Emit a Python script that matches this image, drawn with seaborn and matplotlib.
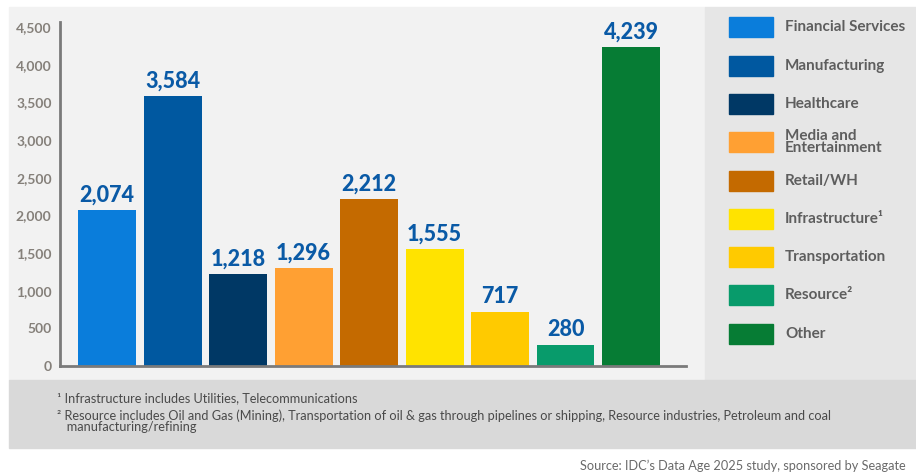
import matplotlib
matplotlib.use("Agg")
import matplotlib.pyplot as plt
import matplotlib.patches as mpatches
import seaborn as sns
import pandas as pd

categories = ["Financial Services", "Manufacturing", "Healthcare", "Media and\nEntertainment",
              "Retail/WH", "Infrastructure¹", "Transportation", "Resource²", "Other"]
values = [2074, 3584, 1218, 1296, 2212, 1555, 717, 280, 4239]
colors = ["#0a7ddb", "#0058a0", "#003865", "#ffa033", "#c46a00",
          "#ffe300", "#ffca00", "#089b6b", "#067c34"]
yticks = [0, 500, 1000, 1500, 2000, 2500, 3000, 3500, 4000, 4500]
footnote1 = "¹ Infrastructure includes Utilities, Telecommunications"
footnote2 = ("² Resource includes Oil and Gas (Mining), Transportation of oil & gas through pipelines or shipping, "
             "Resource industries, Petroleum and coal\n   manufacturing/refining")
source = "Source: IDC’s Data Age 2025 study, sponsored by Seagate"

sns.set_theme(style="white")
plt.rcParams['font.family'] = ['Lato', 'DejaVu Sans']

df = pd.DataFrame({"cat": categories, "val": values})

fig = plt.figure(figsize=(9.16, 4.75), dpi=100)
fig.patch.set_facecolor("white")
W, H = 916, 475

def rect(x0, y0, x1, y1, color):
    fig.patches.append(mpatches.Rectangle((x0 / W, 1 - y1 / H), (x1 - x0) / W, (y1 - y0) / H,
                                          transform=fig.transFigure, color=color, zorder=-10))

rect(9, 7, 705, 380, "#f2f2f2")
rect(705, 7, 916, 380, "#e6e6e6")
rect(9, 380, 916, 448, "#d9d9d9")

ax = fig.add_axes([60 / W, 1 - 366 / H, (686 - 60) / W, (366 - 22) / H])
ax.set_facecolor("none")
sns.barplot(data=df, x="cat", y="val", hue="cat", palette=colors, legend=False,
            width=0.885, ax=ax, saturation=1, linewidth=0)
ax.set_xlim(-0.72, 8.84)
ax.set_ylim(0, 4500 * (366 - 22) / (366 - 27))
ax.set_yticks(yticks)
ax.set_yticklabels([f"{v:,}" for v in yticks], color="#85807a", fontsize=10, fontweight="bold")
ax.set_xticks([])
ax.set_xlabel("")
ax.set_ylabel("")
for s in ["top", "right"]:
    ax.spines[s].set_visible(False)
for s in ["left", "bottom"]:
    ax.spines[s].set_color("#7a7a7a")
    ax.spines[s].set_linewidth(2)
ax.tick_params(axis="y", length=0, pad=6)

for i, v in enumerate(values):
    ax.text(i, v + 60, f"{v:,}", ha="center", va="bottom", color="#0a5aa6",
            fontsize=15.5, fontweight="black")

# legend
leg_y = [27, 66, 104, 142, 181, 219, 257, 295, 334]
for lab, col, yc in zip(categories, colors, leg_y):
    fig.patches.append(mpatches.Rectangle((729 / W, 1 - (yc + 10) / H), 44 / W, 20 / H,
                                          transform=fig.transFigure, color=col))
    fig.text(785 / W, 1 - yc / H, lab, ha="left", va="center", color="#5e5e5e",
             fontsize=11, fontweight="bold", linespacing=0.9)

fig.text(57 / W, 1 - 398 / H, footnote1, ha="left", va="center", fontsize=9.2,
         color="#4a4a4a")
fig.text(57 / W, 1 - 409 / H, footnote2, ha="left", va="top", fontsize=9.2,
         color="#4a4a4a", linespacing=0.95)
fig.text(906 / W, 1 - 466 / H, source, ha="right", va="center", fontsize=9.2,
         color="#6a6a6a")

fig.savefig("out.png", dpi=100)
